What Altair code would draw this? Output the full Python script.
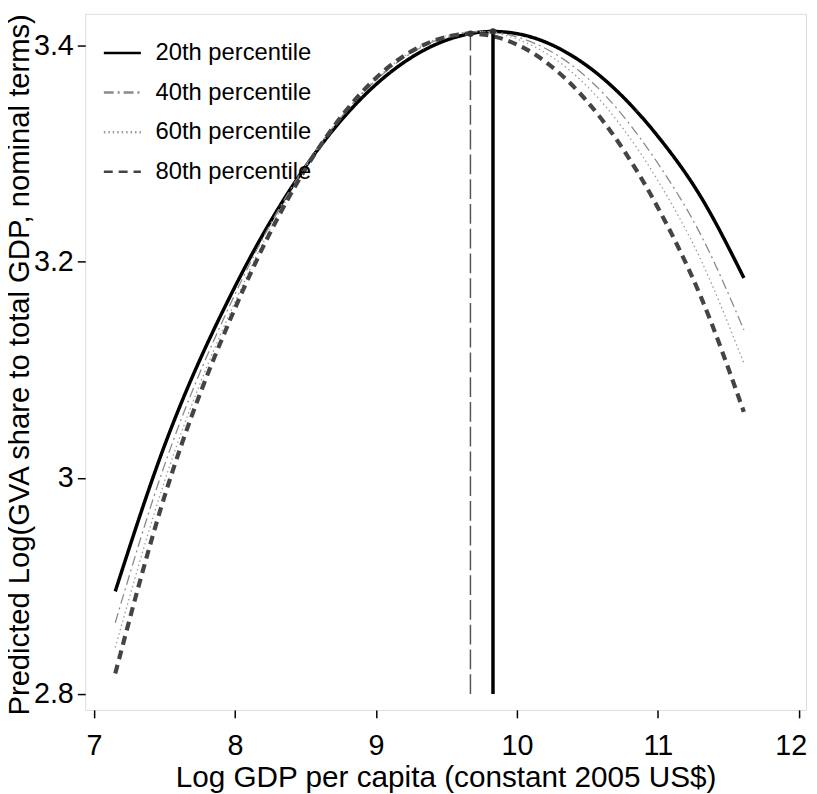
import altair as alt
import pandas as pd

series = ["20th percentile", "40th percentile", "60th percentile", "80th percentile"]
series_colors = ["#000000", "#8a8a8a", "#9c9c9c", "#444444"]
series_dash = [[1, 0], [10, 4, 2, 4], [1.5, 3], [9, 6]]
series_width = [3.5, 1.3, 1.3, 4.2]

p20_x = [7.15, 7.5, 8.0, 8.5, 9.0, 9.5, 9.83, 10.0, 10.5, 11.0, 11.3, 11.61]
p20_y = [2.895, 3.030, 3.177, 3.288, 3.364, 3.405, 3.413, 3.411, 3.381, 3.316, 3.261, 3.185]

p40_x = [7.15, 7.5, 8.0, 8.5, 9.0, 9.5, 9.76, 10.0, 10.5, 11.0, 11.3, 11.61]
p40_y = [2.866, 3.012, 3.170, 3.289, 3.368, 3.408, 3.413, 3.408, 3.370, 3.291, 3.226, 3.137]

p60_x = [7.15, 7.5, 8.0, 8.5, 9.0, 9.5, 9.72, 10.0, 10.5, 11.0, 11.3, 11.61]
p60_y = [2.843, 2.997, 3.163, 3.287, 3.369, 3.409, 3.413, 3.406, 3.362, 3.275, 3.203, 3.106]

p80_x = [7.15, 7.5, 8.0, 8.5, 9.0, 9.5, 9.67, 10.0, 10.5, 11.0, 11.3, 11.61]
p80_y = [2.819, 2.983, 3.157, 3.286, 3.370, 3.408, 3.411, 3.401, 3.348, 3.250, 3.169, 3.061]

# turning points (vertical reference lines)
peak_x = [9.83, 9.67]
peak_y = [3.413, 3.411]
peak_kind = ["20th", "80th"]
rule_base = 2.8

x_ticks = [7, 8, 9, 10, 11, 12]
y_ticks = [2.8, 3.0, 3.2, 3.4]

rows = []
for name, w, xs, ys in zip(series, series_width, [p20_x, p40_x, p60_x, p80_x], [p20_y, p40_y, p60_y, p80_y]):
    for xv, yv in zip(xs, ys):
        rows.append({"series": name, "w": w, "x": xv, "y": yv})
df = pd.DataFrame(rows)

peaks = pd.DataFrame({"x": peak_x, "y": peak_y, "base": [rule_base] * 2, "kind": peak_kind})

xscale = alt.Scale(domain=[6.937, 12.051], nice=False, zero=False)
yscale = alt.Scale(domain=[2.7853, 3.4293], nice=False, zero=False)

FONT = "Liberation Sans"

xaxis = alt.Axis(
    values=x_ticks, format="d", title="Log GDP per capita (constant 2005 US$)", grid=False, domain=False,
    tickSize=8, tickColor="#000", tickWidth=1.5, labelFontSize=29, labelPadding=14,
    labelColor="#000", labelFont=FONT, titleFont=FONT,
    titleFontSize=30, titleFontWeight="normal", titleColor="#000",
    titleY=68, titleBaseline="middle", labelFlush=8.5, labelFlushOffset=8,
)
yaxis = alt.Axis(
    values=y_ticks, format="~g", title="Predicted Log(GVA share to total GDP, nominal terms)",
    grid=False, domain=False, tickSize=8, tickColor="#000", tickWidth=1.5,
    labelFontSize=29, labelPadding=4, labelColor="#000", labelFont=FONT,
    titleFont=FONT, titleFontSize=29.5, titleFontWeight="normal", titleColor="#000",
    titleX=-66, titleY=354, titleAngle=270, titleBaseline="middle", titleAlign="center",
)

legend = alt.Legend(
    title=None, orient="none", legendX=17, legendY=19, symbolType="stroke", symbolSize=1400,
    symbolStrokeWidth=2.6, labelFontSize=24, labelFont=FONT, labelColor="#000",
    rowPadding=7, labelOffset=13, padding=0,
)

lines = alt.Chart(df).mark_line(interpolate="monotone", strokeCap="butt").encode(
    x=alt.X("x:Q", scale=xscale, axis=xaxis),
    y=alt.Y("y:Q", scale=yscale, axis=yaxis),
    color=alt.Color("series:N", scale=alt.Scale(domain=series, range=series_colors), legend=legend),
    strokeDash=alt.StrokeDash("series:N", scale=alt.Scale(domain=series, range=series_dash), legend=legend),
    strokeWidth=alt.StrokeWidth("w:Q", scale=None, legend=None),
    detail="series:N",
)

rule_solid = alt.Chart(peaks[peaks["kind"] == "20th"]).mark_rule(color="#000", strokeWidth=3.5).encode(
    x=alt.X("x:Q", scale=xscale), y=alt.Y("base:Q", scale=yscale), y2="y:Q"
)
rule_dash = alt.Chart(peaks[peaks["kind"] == "80th"]).mark_rule(color="#555", strokeWidth=1.5, strokeDash=[20, 5]).encode(
    x=alt.X("x:Q", scale=xscale), y=alt.Y("base:Q", scale=yscale), y2="y:Q"
)
dots = alt.Chart(peaks).mark_point(filled=True, size=40, opacity=1).encode(
    x=alt.X("x:Q", scale=xscale), y=alt.Y("y:Q", scale=yscale),
    color=alt.value("#333"),
)

chart = alt.layer(lines, rule_dash, rule_solid, dots).properties(
    width=728, height=703,
    autosize=alt.AutoSizeParams(type="none"),
    padding={"left": 78, "top": 2, "right": 3, "bottom": 81},
).configure_view(
    stroke="#222", strokeWidth=2
).configure(background="white")

chart.save("out.html", embed_options={"renderer": "svg", "actions": False})
